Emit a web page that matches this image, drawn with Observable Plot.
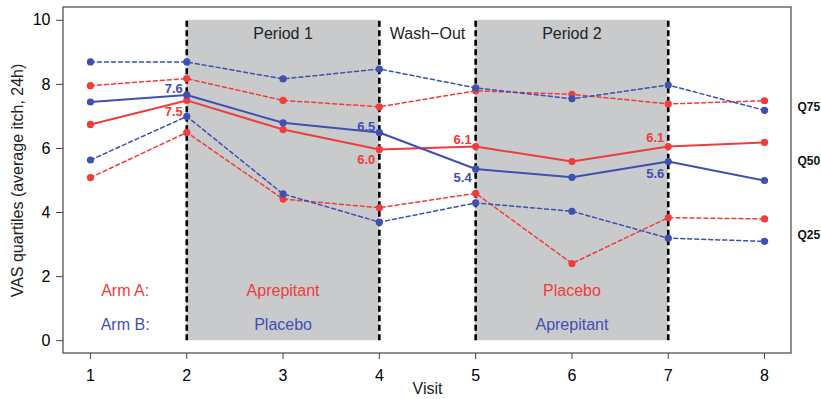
<!DOCTYPE html>
<html>
<head>
<meta charset="utf-8">
<script src="https://cdn.jsdelivr.net/npm/d3@7"></script>
<script src="https://cdn.jsdelivr.net/npm/@observablehq/plot@0.6"></script>
<style>
  html, body { margin: 0; padding: 0; background: #fff; }
  #chart svg { display: block; }
</style>
</head>
<body>
<div id="chart"></div>
<script>
// ---- data ----
const visits = [1, 2, 3, 4, 5, 6, 7, 8];
const armA_Q75 = [7.96, 8.18, 7.50, 7.30, 7.80, 7.69, 7.39, 7.49];
const armA_Q50 = [6.75, 7.50, 6.59, 5.97, 6.06, 5.59, 6.06, 6.19];
const armA_Q25 = [5.09, 6.50, 4.42, 4.15, 4.60, 2.41, 3.84, 3.80];
const armB_Q75 = [8.70, 8.70, 8.17, 8.48, 7.89, 7.55, 7.98, 7.19];
const armB_Q50 = [7.45, 7.67, 6.80, 6.50, 5.36, 5.10, 5.59, 5.00];
const armB_Q25 = [5.64, 7.00, 4.58, 3.70, 4.30, 4.04, 3.20, 3.10];
const periods = [
  {name: "Period 1", start: 2, end: 4, armA: "Aprepitant", armB: "Placebo"},
  {name: "Period 2", start: 5, end: 7, armA: "Placebo", armB: "Aprepitant"}
];
const washOut = [{name: "Wash\u2212Out", start: 4, end: 5}];
const boundaries = [2, 4, 5, 7];
const valueLabelsA = [{visit: 2, text: "7.5"}, {visit: 4, text: "6.0"}, {visit: 5, text: "6.1"}, {visit: 7, text: "6.1"}];
const valueLabelsB = [{visit: 2, text: "7.6"}, {visit: 4, text: "6.5"}, {visit: 5, text: "5.4"}, {visit: 7, text: "5.6"}];
const armNames = ["Arm A:", "Arm B:"];
const quartileNames = ["Q75", "Q50", "Q25"];
const quartileLabelY = [7.3, 5.6, 3.3];
const yTicks = [0, 2, 4, 6, 8, 10];
const yTitle = "VAS quartiles (average itch, 24h)";
const xTitle = "Visit";

// ---- build ----
const RED = "#f03c3c";
const BLUE = "#3f4fb2";
const series = (vals) => visits.map((v, i) => ({visit: v, value: vals[i]}));
const A = {Q75: series(armA_Q75), Q50: series(armA_Q50), Q25: series(armA_Q25)};
const B = {Q75: series(armB_Q75), Q50: series(armB_Q50), Q25: series(armB_Q25)};
const medA = new Map(A.Q50.map(d => [d.visit, d.value]));
const medB = new Map(B.Q50.map(d => [d.visit, d.value]));
const offA = {2: 11, 4: 10, 5: -7, 7: -9};
const offB = {2: -6, 4: -6, 5: 9, 7: 12};
const labA = valueLabelsA.map(d => ({...d, value: medA.get(d.visit), off: offA[d.visit]}));
const labB = valueLabelsB.map(d => ({...d, value: medB.get(d.visit), off: offB[d.visit]}));

const font = "Liberation Sans, Arial, Helvetica, sans-serif";
const dash = "4,3";

const marks = [
  Plot.rect(periods, {x1: "start", x2: "end", y1: 0, y2: 10, fill: "#c9cacc"}),
  Plot.text(periods, {x: d => (d.start + d.end) / 2, y: 10, text: "name", dy: 14, fontSize: 16, fill: "#222"}),
  Plot.text(washOut, {x: d => (d.start + d.end) / 2, y: 10, text: "name", dy: 14, fontSize: 16, fill: "#222"}),
  Plot.text(periods, {x: d => (d.start + d.end) / 2, y: 1.55, text: "armA", fill: RED, fontSize: 16}),
  Plot.text(periods, {x: d => (d.start + d.end) / 2, y: 0.5, text: "armB", fill: BLUE, fontSize: 16}),
  Plot.text([armNames[0]], {x: 1.36, y: 1.55, text: d => d, fill: RED, fontSize: 16}),
  Plot.text([armNames[1]], {x: 1.36, y: 0.5, text: d => d, fill: BLUE, fontSize: 16}),
];
for (const [S, col] of [[A, RED], [B, BLUE]]) {
  marks.push(Plot.line(S.Q75, {x: "visit", y: "value", stroke: col, strokeWidth: 1.5, strokeDasharray: dash}));
  marks.push(Plot.line(S.Q25, {x: "visit", y: "value", stroke: col, strokeWidth: 1.5, strokeDasharray: dash}));
  marks.push(Plot.line(S.Q50, {x: "visit", y: "value", stroke: col, strokeWidth: 2}));
}
marks.push(Plot.ruleX(boundaries, {x: d => d, y1: 0, y2: 10, stroke: "#000", strokeWidth: 2.6, strokeDasharray: "6,3.5"}));
for (const [S, col] of [[A, RED], [B, BLUE]]) {
  for (const q of ["Q75", "Q50", "Q25"]) {
    marks.push(Plot.dot(S[q], {x: "visit", y: "value", r: 3.6, fill: col}));
  }
}
for (const d of labA) marks.push(Plot.text([d], {x: "visit", y: "value", text: "text", fill: RED, fontWeight: "bold", fontSize: 13, textAnchor: "end", dx: -4, dy: d.off}));
for (const d of labB) marks.push(Plot.text([d], {x: "visit", y: "value", text: "text", fill: BLUE, fontWeight: "bold", fontSize: 13, textAnchor: "end", dx: -4, dy: d.off}));
marks.push(
  Plot.rect([null], {fill: "none", stroke: "#555", strokeWidth: 1.3}),
  Plot.axisX(visits, {tickSize: 6, tickPadding: 10, fontSize: 16, label: null, stroke: "#444"}),
  Plot.axisY(yTicks, {tickSize: 7, tickPadding: 6, fontSize: 16, label: null, stroke: "#444"}),
  Plot.text([yTitle], {frameAnchor: "left", textAnchor: "middle", lineAnchor: "middle", text: d => d, rotate: -90, dx: -46, fontSize: 16, fill: "#222"}),
  Plot.text([xTitle], {frameAnchor: "bottom", lineAnchor: "middle", text: d => d, dy: 35, fontSize: 16, fill: "#222"}),
  Plot.text(quartileNames, {x: 8.28, y: (d, i) => quartileLabelY[i], text: d => d, textAnchor: "start", dx: 6, fontWeight: "bold", fontSize: 12, fill: "#111"})
);

const plot = Plot.plot({
  width: 821,
  height: 399,
  marginLeft: 63,
  marginRight: 30,
  marginTop: 7,
  marginBottom: 46,
  style: {fontFamily: font, background: "#fff", overflow: "visible"},
  x: {domain: [0.72, 8.28], axis: null},
  y: {domain: [-0.4, 10.4], axis: null},
  marks
});
document.getElementById("chart").appendChild(plot);
</script>
</body>
</html>
